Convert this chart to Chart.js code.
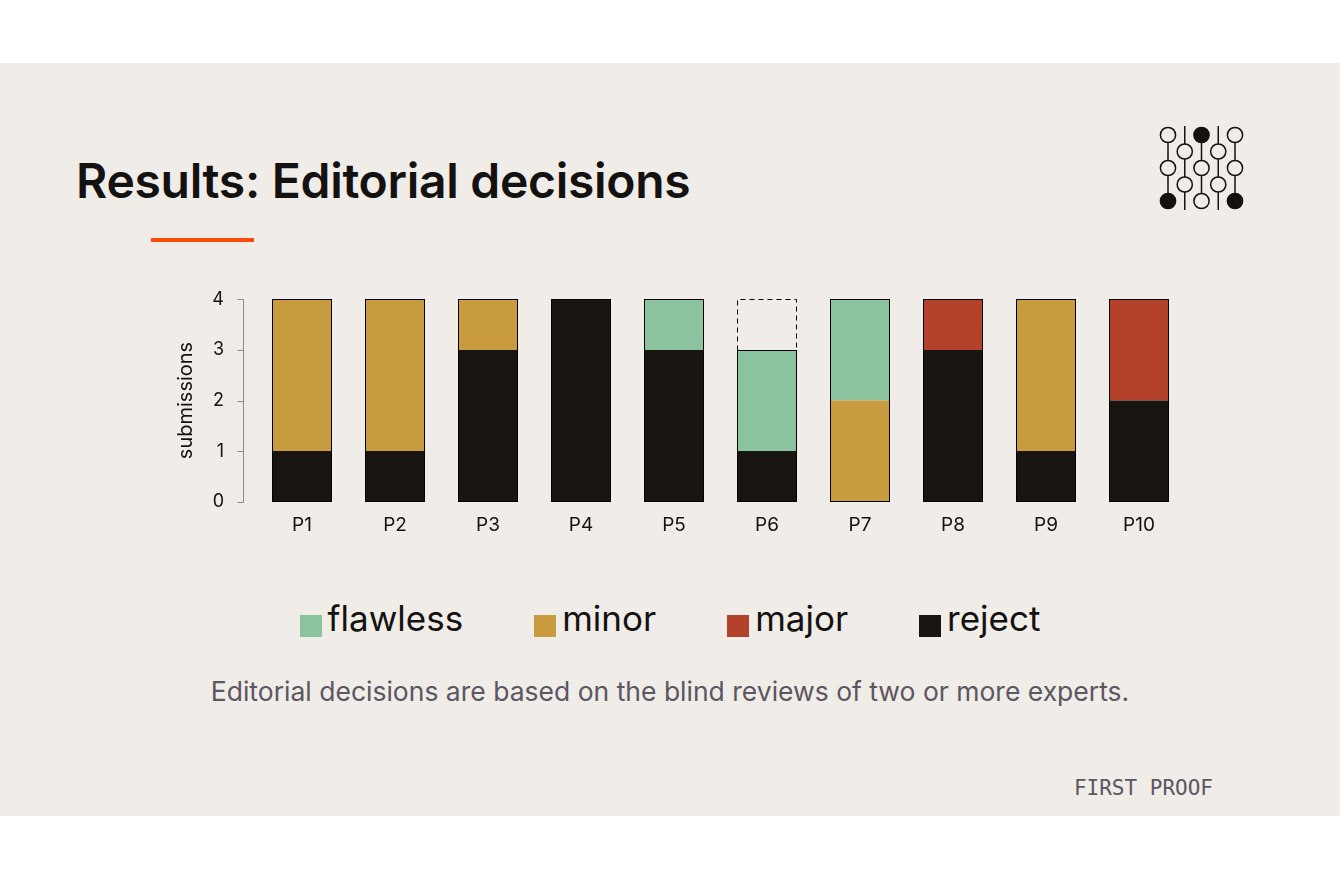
<!DOCTYPE html>
<html><head><meta charset="utf-8">
<script src="https://cdn.jsdelivr.net/npm/chart.js@4/dist/chart.umd.min.js"></script>
<style>
html,body{margin:0;padding:0;background:#fff;width:1340px;height:879px;overflow:hidden;font-family:Inter,"Noto Sans",sans-serif}
#panel{position:absolute;left:0;top:63px;width:1340px;height:753px;background:#f0ece8}
#title{position:absolute;left:76px;top:157px;font-size:48px;line-height:1;font-weight:600;color:#141211;white-space:nowrap;letter-spacing:-0.3px}
#rule{position:absolute;left:151px;top:238px;width:103px;height:4px;background:#ff4a0a}
#logo{position:absolute;left:1150px;top:120px}
#chartBox{position:absolute;left:150px;top:257px;width:1060px;height:287px}
#legend{position:absolute;left:0;width:1340px;top:601px;display:flex;justify-content:center;gap:71px;font-size:35px;line-height:1;color:#141211}
#legend .item{display:flex;align-items:flex-start;white-space:nowrap}
#legend .sw{width:22px;height:22px;margin-right:6px;margin-top:14px}
#caption{position:absolute;left:0;width:1340px;top:678px;text-align:center;font-size:26.5px;line-height:1;color:#5b5662;white-space:nowrap}
#foot{position:absolute;right:127px;top:778px;font-family:"DejaVu Sans Mono",monospace;font-size:21px;line-height:1;color:#5b5662;white-space:nowrap}
</style></head>
<body>
<div id="panel"></div>
<div id="title">Results: Editorial decisions</div>
<div id="rule"></div>
<svg id="logo" width="100" height="100" viewBox="1150 120 100 100"></svg>
<div id="chartBox"><canvas id="c" width="1060" height="287"></canvas></div>
<div id="legend"></div>
<div id="caption">Editorial decisions are based on the blind reviews of two or more experts.</div>
<div id="foot">FIRST PROOF</div>
<script>
// ---- data ----
const categories = ['P1','P2','P3','P4','P5','P6','P7','P8','P9','P10'];
const reject   = [1,1,3,4,3,1,0,3,1,2];
const major    = [0,0,0,0,0,0,0,1,0,2];
const minor    = [3,3,1,0,0,0,2,0,3,0];
const flawless = [0,0,0,0,1,2,2,0,0,0];
const pending  = [0,0,0,0,0,1,0,0,0,0];
const yTicks   = [0,1,2,3,4];
const legendLabels = ['flawless','minor','major','reject'];
const colors = {flawless:'#8bc39f', minor:'#c99b3f', major:'#b4412a', reject:'#181412'};

// ---- logo (decoration) ----
(function(){
  const svg = document.getElementById('logo');
  const cols = [1168,1184.75,1201.5,1218.25,1235];
  const rowsA = [135,168,201], rowsB = [151.5,184.5];
  const filled = {'2-0':1,'0-2':1,'4-2':1};
  let s = '';
  cols.forEach((x,ci)=>{
    const even = ci%2===0;
    const y1 = even?135:126, y2 = even?201:210;
    s += `<line x1="${x}" x2="${x}" y1="${y1}" y2="${y2}" stroke="#141211" stroke-width="1.5"/>`;
  });
  cols.forEach((x,ci)=>{
    const rows = ci%2===0?rowsA:rowsB;
    rows.forEach((y,ri)=>{
      const f = filled[ci+'-'+ri];
      s += `<circle cx="${x}" cy="${y}" r="7.6" fill="${f?'#141211':'#f0ece8'}" stroke="#141211" stroke-width="1.5"/>`;
    });
  });
  svg.innerHTML = s;
})();

// ---- legend ----
document.getElementById('legend').innerHTML = legendLabels.map(l =>
  `<div class="item"><div class="sw" style="background:${colors[l]}"></div><span>${l}</span></div>`).join('');

// ---- chart ----
const realSets = [reject, major, minor, flawless];
const decor = {
  id:'decor',
  afterDatasetsDraw(chart){
    const ctx = chart.ctx, ys = chart.scales.y;
    const m0 = chart.getDatasetMeta(0);
    const y0 = ys.getPixelForValue(0);
    ctx.save();
    ctx.strokeStyle = '#000'; ctx.lineWidth = 1;
    categories.forEach((c,i)=>{
      const el = m0.data[i];
      const total = realSets.reduce((a,s)=>a+s[i],0);
      const yt = ys.getPixelForValue(total);
      const l = Math.round(el.x - el.width/2)+0.5, r = Math.round(el.x + el.width/2)-0.5;
      ctx.setLineDash([]);
      ctx.strokeRect(l, Math.round(yt)+0.5, r-l, Math.round(y0)-Math.round(yt)-1);
      if (pending[i]>0){
        const yp = ys.getPixelForValue(total+pending[i]);
        ctx.setLineDash([5,4]);
        ctx.beginPath();
        ctx.moveTo(l, Math.round(yt)+0.5);
        ctx.lineTo(l, Math.round(yp)+0.5);
        ctx.lineTo(r, Math.round(yp)+0.5);
        ctx.lineTo(r, Math.round(yt)+0.5);
        ctx.stroke();
      }
    });
    // bracket y axis
    ctx.setLineDash([]);
    ctx.strokeStyle = '#8a8a8a';
    const ax = 243 - 150 + 0.5;
    ctx.beginPath();
    ctx.moveTo(ax, Math.round(ys.getPixelForValue(yTicks[0]))+0.5);
    ctx.lineTo(ax, Math.round(ys.getPixelForValue(yTicks[yTicks.length-1]))+0.5);
    yTicks.forEach(t=>{
      const yy = Math.round(ys.getPixelForValue(t))+0.5;
      ctx.moveTo(ax-6, yy); ctx.lineTo(ax, yy);
    });
    ctx.stroke();
    ctx.restore();
  }
};

new Chart(document.getElementById('c'), {
  type:'bar',
  data:{
    labels: categories,
    datasets:[
      {label:'reject', data:reject, backgroundColor:colors.reject},
      {label:'major', data:major, backgroundColor:colors.major},
      {label:'minor', data:minor, backgroundColor:colors.minor},
      {label:'flawless', data:flawless, backgroundColor:colors.flawless},
      {label:'pending', data:pending, backgroundColor:'rgba(0,0,0,0)'}
    ]
  },
  options:{
    responsive:false, animation:false, devicePixelRatio:1,
    layout:{padding:{top:17,right:24.5,bottom:0,left:0}},
    plugins:{legend:{display:false}, tooltip:{enabled:false}},
    datasets:{bar:{categoryPercentage:1, barPercentage:60/93, borderWidth:0, stack:'s'}},
    scales:{
      x:{stacked:true, grid:{display:false, drawTicks:false}, border:{display:false},
         ticks:{color:'#141211', font:{family:'Inter', size:19}, padding:12},
         afterFit(s){ s.height = 40; }},
      y:{stacked:true, min:0, max:4, grid:{display:false, drawTicks:false}, border:{display:false},
         ticks:{stepSize:1, color:'#141211', font:{family:'Inter', size:18}, padding:31.5,
                callback:(v)=> yTicks.includes(v) ? String(v) : ''},
         title:{display:true, text:'submissions', color:'#141211', font:{family:'Inter', size:20}, padding:{top:24,bottom:0}},
         afterFit(s){ s.width = 105.5; }}
    }
  },
  plugins:[decor]
});
</script>
</body></html>
